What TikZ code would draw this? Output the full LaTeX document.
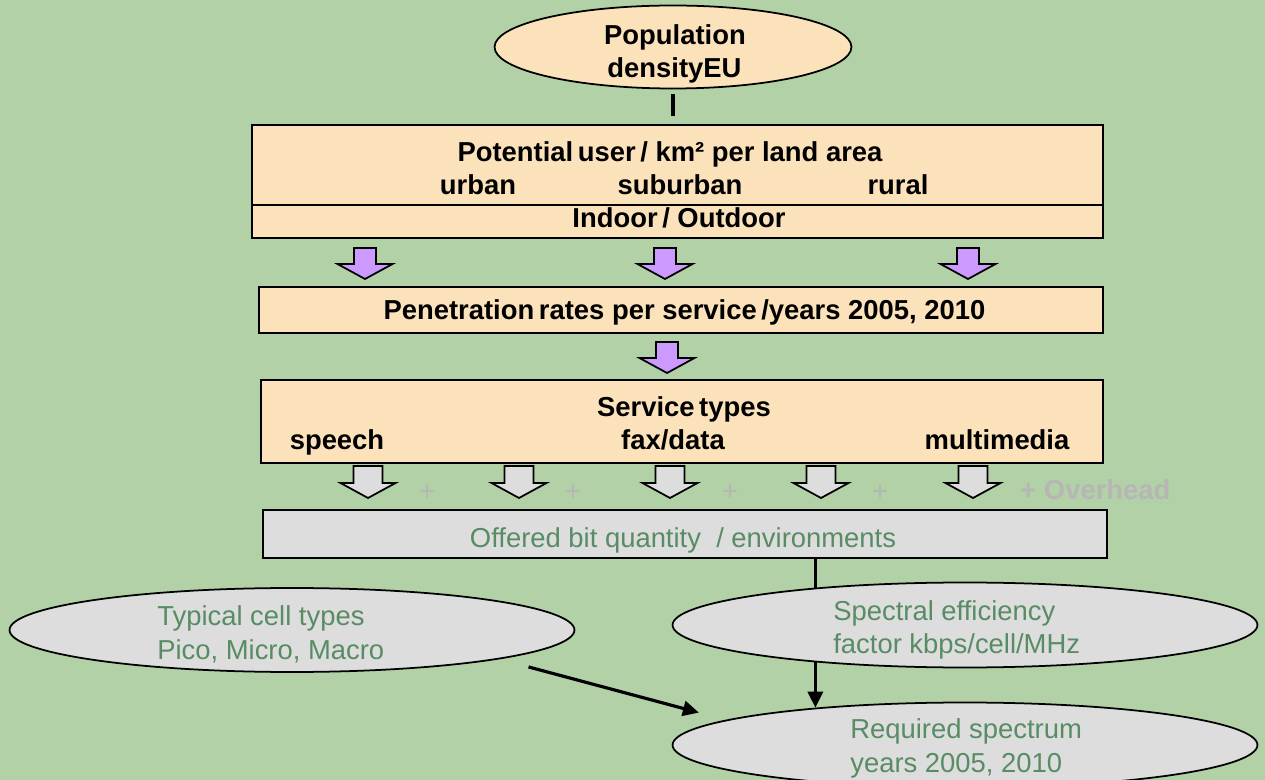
\documentclass[tikz,border=0pt]{standalone}
\usepackage{fontspec}
\setmainfont{Liberation Sans}
\usetikzlibrary{shapes.geometric,arrows.meta}

\definecolor{meadow}{RGB}{178,209,166}
\definecolor{peach}{RGB}{252,226,186}
\definecolor{lilac}{RGB}{204,153,255}
\definecolor{lightgrey}{RGB}{221,221,221}
\definecolor{sage}{RGB}{88,140,100}
\definecolor{plusgrey}{RGB}{182,182,182}
\newcommand\bigfont{\fontsize{15.6}{18.7}\selectfont}

\begin{document}
\begin{tikzpicture}[x=0.02cm,y=-0.02cm,
    every node/.style={font=\bigfont},
    peachbox/.style={draw,line width=1pt,fill=peach,inner sep=0pt},
    greybox/.style={draw,line width=1pt,fill=lightgrey,inner sep=0pt},
    peachell/.style={ellipse,draw,line width=1pt,fill=peach,inner sep=0pt},
    greyell/.style={ellipse,draw,line width=1pt,fill=lightgrey,inner sep=0pt,
      minimum width=11.7cm,minimum height=1.7cm},
    boldtxt/.style={anchor=base,font=\bigfont\bfseries},
    sagetxt/.style={anchor=base west,text=sage,inner sep=0pt},
    plustxt/.style={text=plusgrey},
    link/.style={line width=2pt},
    arr/.style={line width=1.8pt,-{Triangle[length=0.32cm,width=0.3cm]}},
    lilacarrow/.pic={\draw[fill=lilac,line width=1pt] (-11,0) -- (11,0) -- (11,16) -- (27.5,16)
      -- (0,31) -- (-27.5,16) -- (-11,16) -- cycle;},
    greyarrow/.pic={\draw[fill=lightgrey,line width=1pt] (-14.5,0) -- (14.5,0) -- (14.5,17) -- (27.5,17)
      -- (0,32) -- (-27.5,17) -- (-14.5,17) -- cycle;}]

  \useasboundingbox (0,0) rectangle (1265,780);
  \clip (0,0) rectangle (1265,780);
  \fill[meadow] (0,0) rectangle (1265,780);

  % top of the chain
  \node[peachell,minimum width=7.14cm,minimum height=1.66cm] (pop) at (673,47) {};
  \node[boldtxt] (popname) at (675,45) {Population};
  \node[boldtxt] (popeu) at (674.5,78) {densityEU};

  \node[peachbox,minimum width=17.02cm,minimum height=1.6cm] (pot) at (677.5,165) {};
  \node[peachbox,minimum width=17.02cm,minimum height=0.66cm] (inout) at (677.5,221.5) {};
  \node[boldtxt] (potline) at (670,162) {Potential\,user\,/ km² per land area};
  \node[boldtxt] (urban) at (478,195) {urban};
  \node[boldtxt] (suburban) at (680,195) {suburban};
  \node[boldtxt] (rural) at (898,195) {rural};
  \node[boldtxt] (inoutline) at (679,228) {Indoor\,/ Outdoor};

  \draw[link,shorten <=0.1cm,shorten >=0.16cm] (pop.south) -- (pop.south |- pot.north);

  \pic at (365,248) {lilacarrow};
  \pic at (665,248) {lilacarrow};
  \pic at (968,248) {lilacarrow};

  \node[peachbox,minimum width=16.88cm,minimum height=0.92cm] (pen) at (681,310) {};
  \node[boldtxt] (penline) at (684.5,320) {Penetration\,rates per service\,/years 2005, 2010};

  \pic at (667,342) {lilacarrow};

  \node[peachbox,minimum width=16.84cm,minimum height=1.66cm] (serv) at (682,421.5) {};
  \node[boldtxt] (servline) at (684,417) {Service\,types};
  \node[boldtxt] (speech) at (337,450) {speech};
  \node[boldtxt] (fax) at (673,450) {fax/data};
  \node[boldtxt] (multi) at (997,450) {multimedia};

  % service arrows and overhead
  \foreach \x in {368,519,670,821,973}
    \pic at (\x,466) {greyarrow};
  \foreach \x in {427,573,730,880}
    \node[plustxt] at (\x,493) {+};
  \node[plustxt,anchor=base west,inner sep=0pt,font=\bigfont\bfseries] (over) at (1020,500) {+ Overhead};

  \node[greybox,minimum width=16.88cm,minimum height=0.96cm] (off) at (685,534) {};
  \node[sagetxt,anchor=base] (offline) at (683,547) {Offered bit quantity \ / environments};

  % ellipses at the bottom
  \node[greyell,minimum width=11.3cm,minimum height=1.68cm] (cell) at (292,630) {};
  \node[sagetxt] (cella) at (157,625) {Typical cell types};
  \node[sagetxt] (cellb) at (157,659) {Pico, Micro, Macro};
  \node[greyell] (spec) at (965,625) {};
  \node[sagetxt] (speca) at (833,620) {Spectral efficiency};
  \node[sagetxt] (specb) at (833,653) {factor kbps/cell/MHz};
  \node[greyell] (req) at (965,745) {};
  \node[sagetxt] (reqa) at (850,738) {Required spectrum};
  \node[sagetxt] (reqb) at (850,772) {years 2005, 2010};

  \draw[link] (off.south -| spec.166) -- (spec.166);
  \draw[arr] (spec.194) -- (req.166);
  \draw[arr,shorten <=0.6cm,shorten >=0.56cm] (cell.-8.6) -- (req.174);
\end{tikzpicture}
\end{document}
